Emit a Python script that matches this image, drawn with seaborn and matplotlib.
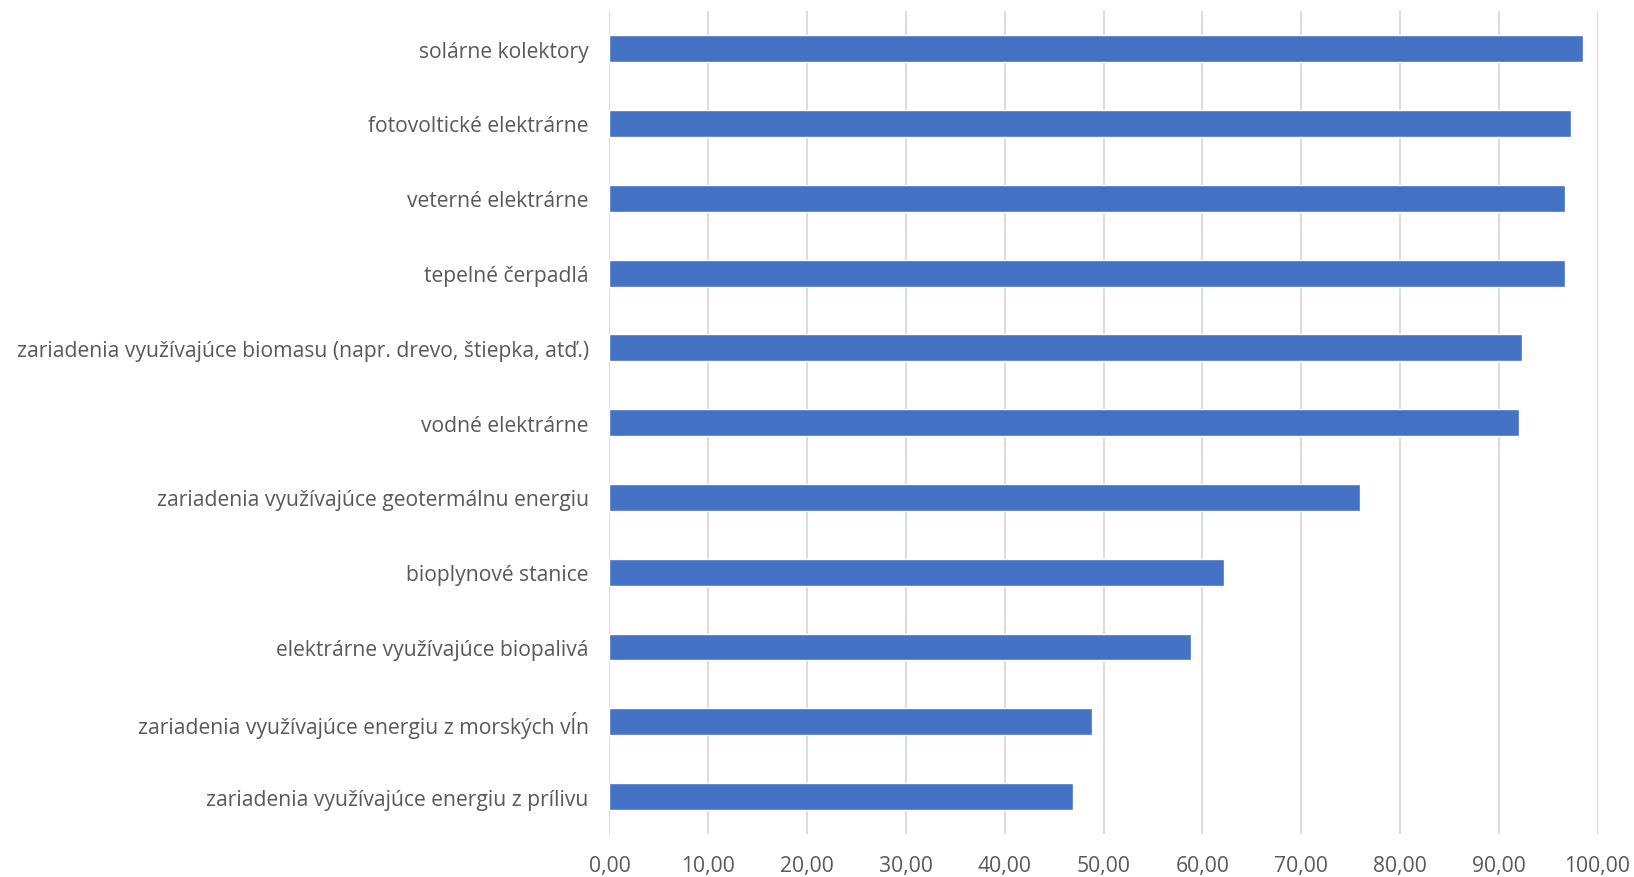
import matplotlib
matplotlib.use("Agg")
import matplotlib.pyplot as plt
import seaborn as sns
import pandas as pd

categories = [
    "solárne kolektory",
    "fotovoltické elektrárne",
    "veterné elektrárne",
    "tepelné čerpadlá",
    "zariadenia využívajúce biomasu (napr. drevo, štiepka, atď.)",
    "vodné elektrárne",
    "zariadenia využívajúce geotermálnu energiu",
    "bioplynové stanice",
    "elektrárne využívajúce biopalivá",
    "zariadenia využívajúce energiu z morských vĺn",
    "zariadenia využívajúce energiu z prílivu",
]
values = [98.5, 97.3, 96.7, 96.7, 92.4, 92.05, 76.0, 62.2, 58.9, 48.8, 46.9]
x_ticks = [0, 10, 20, 30, 40, 50, 60, 70, 80, 90, 100]

sns.set_theme(style="white")
plt.rcParams["font.family"] = ["Open Sans", "DejaVu Sans"]

df = pd.DataFrame({"kategoria": categories, "hodnota": values})

fig = plt.figure(figsize=(16.34, 8.78), dpi=100)
ax = fig.add_axes([0.373, 0.049, 0.6047, 0.937])

sns.barplot(data=df, x="hodnota", y="kategoria", orient="h", color="#4472C4",
            saturation=1, width=0.36, ax=ax)

ax.set_xlim(0, 100)
ax.set_ylim(len(categories) - 0.5, -0.5)
ax.set_xticks(x_ticks)
ax.set_xticklabels([f"{t:.2f}".replace(".", ",") for t in x_ticks])
ax.set_xlabel("")
ax.set_ylabel("")
ax.grid(axis="x", color="#D9D9D9", linewidth=1.3)
ax.set_axisbelow(True)
for s in ax.spines.values():
    s.set_visible(False)
ax.tick_params(axis="both", length=0, colors="#595959", labelsize=15.2)
ax.tick_params(axis="x", pad=15)
ax.tick_params(axis="y", pad=15)

fig.savefig("out.png", dpi=100, facecolor="white")
